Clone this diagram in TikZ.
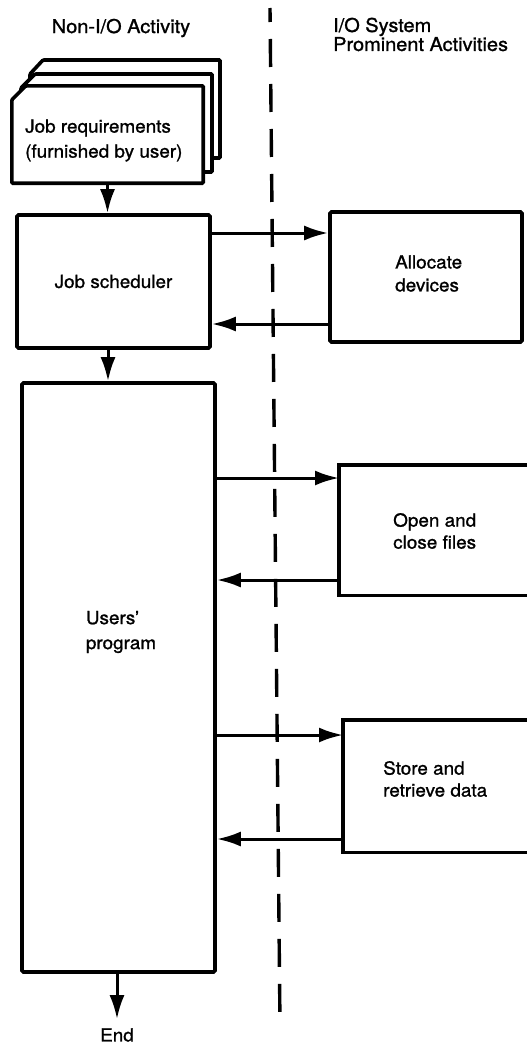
\documentclass[tikz,border=0pt]{standalone}
\usepackage{fontspec}
\setmainfont{TeX Gyre Heros}[FakeStretch=1.05, FakeBold=1.2]
\usetikzlibrary{arrows.meta,calc}

\begin{document}
\begin{tikzpicture}[x=1pt,y=-1pt,
  box/.style={draw, line width=3.6pt, rounded corners=1.5pt, inner sep=0pt},
  page/.style={draw, fill=white, line width=3.6pt, rounded corners=1pt},
  flow/.style={line width=3pt, -{Latex[length=24pt,width=15pt]}},
  lbl/.style={font=\fontsize{18}{#1}\selectfont, align=left, inner sep=0pt},
  lbl/.default=22,
  head/.style={font=\fontsize{19}{#1}\selectfont, align=left, inner sep=0pt},
  head/.default=18,
  divider/.style={line width=3.4pt, dash pattern=on 28pt off 17pt, dash phase=14pt}
]
\useasboundingbox (0,0) rectangle (527,1044);

% column headings and the dashed divider between them
\node[head] (hleft) at (121,28) {Non-I/O Activity};
\node[head=17, anchor=west] (hright) at (333,34.5) {I/O System\\Prominent Activities};
\draw[divider] (270,8) -- (280,1025);

% stack of job cards
\draw[page] (30,74) -- (43,60) -- (220,60) -- (220,158) -- (30,158) -- cycle;
\draw[page] (21,88) -- (35,74) -- (212,74) -- (212,172) -- (21,172) -- cycle;
\node[inner sep=0pt, minimum width=191pt, minimum height=97pt] (req) at (107.5,134.5) {};
\draw[page] ($(req.north west)+(0,14)$) -- ($(req.north west)+(14,0)$)
  -- (req.north east) -- (req.south east) -- (req.south west) -- cycle;
\node[lbl=25, anchor=west] (reqtxt) at (25,140.5) {Job requirements\\(furnished by user)};

% non-I/O column
\node[box, minimum width=193pt, minimum height=133pt] (sched) at (113.5,281.5) {\fontsize{18}{22}\selectfont Job scheduler};
\node[box, minimum width=193pt, minimum height=589pt] (user) at (118.5,677.5) {};
\node[lbl=25] (usertxt) at (121,632) {Users'\\program};
\node[lbl, inner ysep=9pt] (fin) at (117,1035) {End};

% I/O column
\node[box, minimum width=192pt, minimum height=130pt] (alloc) at (426,277) {};
\node[lbl=23, anchor=west] (alloctxt) at (395,273.5) {Allocate\\devices};

\node[inner sep=0pt, minimum width=188pt, minimum height=130pt, anchor=north west] (open) at (339,465) {};
\draw[line width=3.6pt] (open.north east) -- (open.north west) -- (open.south west) -- (open.south east);
\node[lbl, anchor=west] (opentxt) at (393,531) {Open and\\close files};

\node[inner sep=0pt, minimum width=184pt, minimum height=132pt, anchor=north west] (store) at (343,720) {};
\draw[line width=3.6pt] (store.north east) -- (store.north west) -- (store.south west) -- (store.south east);
\node[lbl, anchor=west] (storetxt) at (383,779) {Store and\\retrieve data};

% control flow down the left column
\draw[flow] (req.south) -- (req.south |- sched.north);
\draw[flow] (sched.south -| 108,0) -- (user.north -| 108,0);
\draw[flow] (user.south -| fin.north) -- (fin.north);

% calls across to the I/O system and returns
\draw[flow] (sched.east |- 0,233) -- (alloc.west |- 0,233);
\draw[flow] (alloc.west |- 0,324) -- (sched.east |- 0,324);
\draw[flow] (user.east |- 0,478) -- (open.west |- 0,478);
\draw[flow] (open.west |- 0,580) -- (user.east |- 0,580);
\draw[flow] (user.east |- 0,735) -- (store.west |- 0,735);
\draw[flow] (store.west |- 0,839) -- (user.east |- 0,839);
\end{tikzpicture}
\end{document}
